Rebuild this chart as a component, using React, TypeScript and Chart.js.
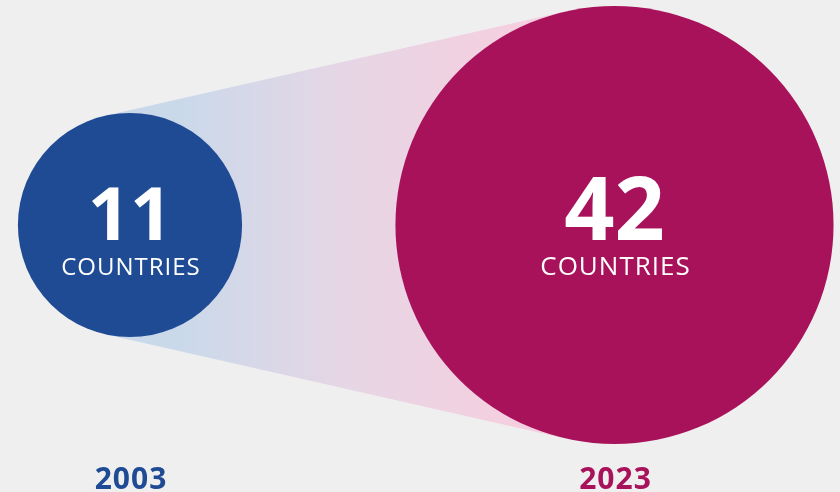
import React, { useEffect, useRef } from "react";
import { Chart, registerables } from "chart.js";

Chart.register(...registerables);

// ---- data ----
const years = [2003, 2023];
const countryCounts = [11, 42];
const unitLabel = "COUNTRIES";

// ---- styles ----
const circleColors = ["#1f4b94", "#a8125a"];
const valueFontSizes = [74, 88];
const unitFontSizes = [24, 26];
const background = "#efefef";
const radiusPerSqrt = 33.8;

const connectorPlugin = {
  id: "connector",
  beforeDraw(chart: any) {
    const { ctx, width, height } = chart;
    ctx.save();
    ctx.fillStyle = background;
    ctx.fillRect(0, 0, width, height);
    ctx.restore();
  },
  beforeDatasetsDraw(chart: any) {
    const meta = chart.getDatasetMeta(0);
    const els = meta.data;
    if (els.length < 2) return;
    const a = els[0];
    const b = els[1];
    const r1 = a.options.radius;
    const r2 = b.options.radius;
    const dx = b.x - a.x;
    const dy = b.y - a.y;
    const D = Math.hypot(dx, dy);
    const ux = dx / D;
    const uy = dy / D;
    const cphi = (r1 - r2) / D;
    const sphi = Math.sqrt(Math.max(0, 1 - cphi * cphi));
    const nUp = { x: ux * cphi + uy * sphi, y: uy * cphi - ux * sphi };
    const nDn = { x: ux * cphi - uy * sphi, y: uy * cphi + ux * sphi };
    const ctx = chart.ctx;
    ctx.save();
    const g = ctx.createLinearGradient(a.x + r1 * 0.4, 0, b.x - r2 * 0.45, 0);
    g.addColorStop(0, "#c9d9ea");
    g.addColorStop(0.5, "#e6d6e5");
    g.addColorStop(1, "#f5cfdf");
    ctx.fillStyle = g;
    ctx.beginPath();
    ctx.moveTo(a.x + r1 * nUp.x, a.y + r1 * nUp.y);
    ctx.lineTo(b.x + r2 * nUp.x, b.y + r2 * nUp.y);
    ctx.lineTo(b.x + r2 * nDn.x, b.y + r2 * nDn.y);
    ctx.lineTo(a.x + r1 * nDn.x, a.y + r1 * nDn.y);
    ctx.closePath();
    ctx.fill();
    ctx.restore();
  },
  afterDatasetsDraw(chart: any) {
    const meta = chart.getDatasetMeta(0);
    const ctx = chart.ctx;
    const xScale = chart.scales.x;
    ctx.save();
    ctx.textAlign = "center";
    ctx.textBaseline = "alphabetic";
    meta.data.forEach((el: any, i: number) => {
      ctx.fillStyle = "#ffffff";
      ctx.font = `700 ${valueFontSizes[i]}px "Open Sans"`;
      (ctx as any).letterSpacing = "0px";
      ctx.fillText(String(countryCounts[i]), el.x, el.y + 15);
      ctx.font = `400 ${unitFontSizes[i]}px "Open Sans"`;
      (ctx as any).letterSpacing = "1px";
      ctx.fillText(unitLabel, el.x + 1, el.y + 50);
      ctx.fillStyle = circleColors[i];
      ctx.font = `700 30px "Open Sans"`;
      (ctx as any).letterSpacing = "1px";
      ctx.fillText(String(years[i]), xScale.getPixelForValue(years[i]) + 1, 489);
    });
    ctx.restore();
  },
};

export default function App() {
  const ref = useRef<HTMLCanvasElement | null>(null);
  useEffect(() => {
    if (!ref.current) return;
    const chart = new Chart(ref.current, {
      type: "bubble",
      data: {
        datasets: [
          {
            data: years.map((y, i) => ({
              x: y,
              y: 0,
              r: radiusPerSqrt * Math.sqrt(countryCounts[i]),
            })),
            backgroundColor: circleColors,
            borderWidth: 0,
            hoverBorderWidth: 0,
            clip: false as any,
          },
        ],
      },
      options: {
        responsive: false,
        animation: false,
        events: [],
        layout: { padding: 0, autoPadding: false } as any,
        plugins: {
          legend: { display: false },
          tooltip: { enabled: false },
        },
        scales: {
          x: { type: "linear", display: false, min: 1997.634, max: 2032.309 },
          y: { type: "linear", display: false, min: -1.1867, max: 1 },
        },
      },
      plugins: [connectorPlugin],
    });
    return () => chart.destroy();
  }, []);
  return (
    <div style={{ position: "fixed", left: 0, top: 0, width: 840, height: 492, background }}>
      <canvas ref={ref} width={840} height={492} style={{ display: "block" }} />
    </div>
  );
}
